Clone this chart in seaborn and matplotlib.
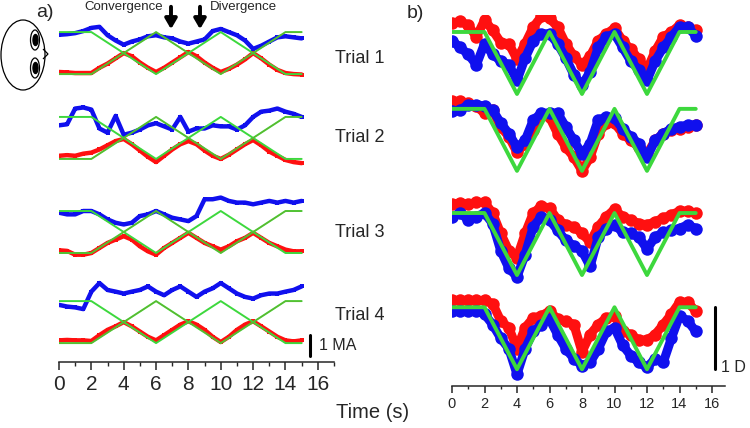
import numpy as np
import pandas as pd
import matplotlib
matplotlib.use("Agg")
import matplotlib.pyplot as plt
from matplotlib.patches import Ellipse, Polygon
from matplotlib.ticker import MultipleLocator
import seaborn as sns

# time base of the read-off samples (s)
t = np.arange(0, 15.01, 0.5)

# ---- panel a: eye position (MA), relative to each trial's centre ----
a_blue_1 = [.87, .9, .95, 1.05, 1.2, 1.25, .85, .6, .4, .55, .65, .8, .85, .75, .7, .55,
            .45, .55, .65, 1.05, 1.15, 1.0, .85, .6, .2, .35, .55, .75, .8, .75, .7]
a_red_1 = [-.9, -.92, -.95, -.95, -.95, -.7, -.5, -.25, .0, -.15, -.45, -.7, -.9, -.7, -.45, -.2,
           .05, -.15, -.45, -.7, -.9, -.75, -.55, -.3, .0, -.25, -.55, -.8, -.95, -1.0, -1.02]
a_blue_2 = [.6, .65, 1.4, 1.45, 1.35, .45, .25, 1.05, .15, .25, .4, .6, .7, .55, .4, 1.0,
            .3, .45, .45, .6, .55, .55, .4, .6, 1.0, 1.25, 1.3, 1.4, 1.25, 1.15, 1.0]
a_red_2 = [-.85, -.82, -.85, -.75, -.7, -.55, -.35, -.15, -.05, -.3, -.6, -.9, -1.15, -.85, -.55, -.3,
           -.15, -.3, -.6, -.85, -1.0, -.8, -.55, -.3, -.1, -.35, -.65, -.85, -1.05, -1.15, -1.2]
a_blue_3 = [.92, .84, .84, 1.0, 1.0, .84, .6, .44, .36, .44, .76, .84, 1.0, .84, .68, .6,
            .52, .76, 1.56, 1.56, 1.64, 1.48, 1.4, 1.4, 1.32, 1.4, 1.48, 1.4, 1.48, 1.4, 1.48]
a_red_3 = [-.87, -.9, -1.08, -1.08, -1.0, -.76, -.52, -.36, -.2, -.36, -.68, -.92, -1.08, -.76, -.52, -.28,
           -.04, -.28, -.52, -.68, -.84, -.68, -.44, -.28, -.04, -.28, -.52, -.68, -.84, -.92, -.92]
a_blue_4 = [.82, .74, .7, .62, 1.45, 1.86, 1.53, 1.45, 1.36, 1.45, 1.53, 1.7, 1.45, 1.28, 1.53, 1.7,
            1.45, 1.2, 1.45, 1.61, 1.86, 1.61, 1.36, 1.2, 1.12, 1.28, 1.36, 1.36, 1.45, 1.53, 1.7]
a_red_4 = [-.87, -.85, -.87, -.87, -.9, -.62, -.37, -.2, 0, -.2, -.45, -.7, -.87, -.62, -.37, -.12,
           .04, -.12, -.37, -.7, -.95, -.7, -.37, -.12, .04, -.2, -.45, -.7, -.87, -.92, -.87]

# stimulus (two eyes) for panel a
a_stim_t = [0, 2, 6, 10, 14, 15]
a_stim_up = [1, 1, -1, 1, -1, -1]
a_stim_dn = [-1, -1, 1, -1, 1, 1]
a_offsets = [14.71, 10.67, 6.19, 1.90]

# ---- panel b: vergence (D), relative to stimulus start level ----
b_red_1 = [.14, .17, .11, -.08, .19, .03, -.17, -.19, -.44, -.19, .08, .25, .22, .08, -.19, -.39,
           -.53, -.39, -.14, -.03, .06, -.14, -.28, -.44, -.61, -.31, -.08, 0, .11, .08, .03]
b_blue_1 = [-.14, -.25, -.36, -.53, -.19, -.36, -.47, -.53, -.78, -.42, -.14, -.03, -.03, -.19, -.42, -.69,
            -.86, -.64, -.25, -.08, -.03, -.25, -.47, -.61, -.78, -.47, -.25, -.08, .08, .08, -.06]
b_red_2 = [.12, .12, .09, .04, -.07, -.02, -.29, -.45, -.7, -.56, -.34, -.1, -.13, -.4, -.62, -.78,
           -1.0, -.78, -.4, -.23, -.23, -.4, -.51, -.62, -.73, -.51, -.4, -.34, -.32, -.29, -.26]
b_blue_2 = [-.04, -.02, .07, .07, .04, -.02, -.23, -.4, -.62, -.51, -.18, -.07, -.07, -.07, -.29, -.51,
            -.73, -.56, -.18, -.13, -.15, -.32, -.45, -.56, -.78, -.51, -.4, -.32, -.29, -.26, -.26]
b_red_3 = [.14, .16, .14, .17, .17, 0, -.33, -.61, -.72, -.33, 0, .11, .08, -.11, -.19, -.22,
           -.33, -.47, -.22, -.06, .06, -.06, -.11, -.17, -.19, -.14, -.08, -.03, .03, .03, 0]
b_blue_3 = [-.06, 0, -.11, -.06, 0, -.17, -.61, -.89, -1.03, -.67, -.22, -.06, -.11, -.28, -.44, -.53,
            -.61, -.86, -.39, -.25, -.19, -.31, -.33, -.39, -.58, -.39, -.31, -.28, -.25, -.19, -.25]
b_red_4 = [.11, .11, .11, .11, .11, .06, -.22, -.33, -.67, -.33, -.17, -.14, -.06, -.19, -.22, -.28,
           -.72, -.44, -.28, -.17, -.14, -.39, -.44, -.53, -.53, -.44, -.28, -.11, .08, .08, -.06]
b_blue_4 = [-.06, -.06, -.06, -.06, -.11, -.28, -.5, -.67, -1.08, -.67, -.39, -.28, -.19, -.44, -.67, -.83,
            -.94, -.89, -.67, -.39, -.33, -.61, -.78, -.89, -.97, -.83, -.89, -.5, -.14, -.22, -.39]

b_stim_t = [0, 2, 4, 6, 8, 10, 12, 14, 15]
b_stim = [0, 0, -1, 0, -1, 0, -1, 0, 0]
b_offsets = [5.71, 4.47, 2.79, 1.27]

trial_labels = ["Trial 1", "Trial 2", "Trial 3", "Trial 4"]

RED = "#ff1010"
BLUE = "#1010ee"
GREEN = "#3dd83d"

sns.set_style("white")
plt.rcParams["font.family"] = ["Liberation Sans", "DejaVu Sans"]

fig = plt.figure(figsize=(7.5, 4.28), dpi=100)
W, H = 750, 428


def px_axes(left, right, top, bottom):
    return fig.add_axes([left / W, 1 - bottom / H, (right - left) / W, (bottom - top) / H])


# ---------------- panel a ----------------
ax_a = px_axes(59, 334, 15, 362)
a_blue = [a_blue_1, a_blue_2, a_blue_3, a_blue_4]
a_red = [a_red_1, a_red_2, a_red_3, a_red_4]
for off, blue, red in zip(a_offsets, a_blue, a_red):
    sns.lineplot(x=a_stim_t, y=np.array(a_stim_up) + off, ax=ax_a, color=GREEN, lw=1.4, zorder=3)
    sns.lineplot(x=a_stim_t, y=np.array(a_stim_dn) + off, ax=ax_a, color=GREEN, lw=1.4, zorder=3)
    sns.lineplot(x=t, y=np.array(blue) + off, ax=ax_a, color=BLUE, lw=3.2,
                 marker="s", markersize=3.5, markeredgewidth=0, zorder=2)
    sns.lineplot(x=t, y=np.array(red) + off, ax=ax_a, color=RED, lw=3.2,
                 marker="s", markersize=3.5, markeredgewidth=0, zorder=2)
    sns.lineplot(x=a_stim_t, y=np.array(a_stim_dn) + off, ax=ax_a, color="#7a9a20", lw=0.8, zorder=3,
                 alpha=0.6)

ax_a.set_xlim(0, 17)
ax_a.set_ylim(0, 347 / 21)
# 1 MA scale bar
ax_a.plot([15.5, 15.5], [0.29, 1.29], color="black", lw=2.2)
ax_a.text(16.1, 0.79, "1 MA", fontsize=11.5, va="center", ha="left")

# ---------------- panel b ----------------
ax_b = px_axes(452, 725, 15, 386)
b_blue = [b_blue_1, b_blue_2, b_blue_3, b_blue_4]
b_red = [b_red_1, b_red_2, b_red_3, b_red_4]
for off, blue, red in zip(b_offsets, b_blue, b_red):
    sns.lineplot(x=t, y=np.array(red) + off, ax=ax_b, color=RED, lw=6.5,
                 marker="o", markersize=9, markeredgewidth=0, zorder=2)
    sns.lineplot(x=t, y=np.array(blue) + off, ax=ax_b, color=BLUE, lw=6.5,
                 marker="o", markersize=9, markeredgewidth=0, zorder=2)
    sns.lineplot(x=b_stim_t, y=np.array(b_stim) + off, ax=ax_b, color=GREEN, lw=2.8, zorder=3)

ax_b.set_xlim(0, 16.8)
ax_b.set_ylim(0, 371 / 62)
# 1 D scale bar
ax_b.plot([16.2, 16.2], [0.27, 1.27], color="black", lw=2.2)
ax_b.text(16.55, 0.3, "1 D", fontsize=11.5, va="center", ha="left")

for ax, fs, maj, mnr in [(ax_a, 15, 6, 3), (ax_b, 10.5, 5, 2.5)]:
    for side in ["left", "right", "top"]:
        ax.spines[side].set_visible(False)
    ax.spines["bottom"].set_linewidth(1.1)
    ax.spines["bottom"].set_bounds(0, ax.get_xlim()[1])
    ax.set_yticks([])
    ax.xaxis.set_major_locator(MultipleLocator(2))
    ax.xaxis.set_minor_locator(MultipleLocator(1))
    ax.tick_params(axis="x", which="major", direction="out", length=maj, width=1.1,
                   labelsize=fs, pad=3, bottom=True)
    ax.tick_params(axis="x", which="minor", direction="out", length=mnr, width=1.0, bottom=True)
    ax.set_xlabel("")
    ax.set_ylabel("")
    if ax.get_legend():
        ax.get_legend().remove()

# ---------------- overlay: labels, arrows, head ----------------
ov = fig.add_axes([0, 0, 1, 1], zorder=5)
ov.set_xlim(0, W)
ov.set_ylim(H, 0)
ov.axis("off")
ov.patch.set_alpha(0)

ov.text(36, 12, "a)", fontsize=14, va="center", ha="left")
ov.text(407, 13, "b)", fontsize=14, va="center", ha="left")
ov.text(84, 7, "Convergence", fontsize=9.5, va="center", ha="left")
ov.text(210, 7, "Divergence", fontsize=9.5, va="center", ha="left")
for xa in [171, 200]:
    ov.annotate("", xy=(xa, 32), xytext=(xa, 4),
                arrowprops=dict(arrowstyle="-|>,head_width=0.35,head_length=0.6",
                                color="black", lw=2.8))
for ty, lab in zip([58, 138, 232, 315], trial_labels):
    ov.text(335, ty, lab, fontsize=13, va="center", ha="left")
ov.text(336, 413, "Time (s)", fontsize=14.5, va="center", ha="left")

# head cartoon seen from above
ov.add_patch(Ellipse((23, 55), 44, 70, fill=False, ec="black", lw=0.9))
for ey in [40, 68]:
    ov.add_patch(Ellipse((35, ey), 9, 20, fill=False, ec="black", lw=0.9))
    ov.add_patch(Ellipse((35.5, ey), 5, 11, fc="black", ec="black"))
ov.add_patch(Polygon([[43, 49], [48, 54], [43, 59]], closed=False, fill=False, ec="black", lw=0.9))

fig.savefig("out.png", dpi=100)
